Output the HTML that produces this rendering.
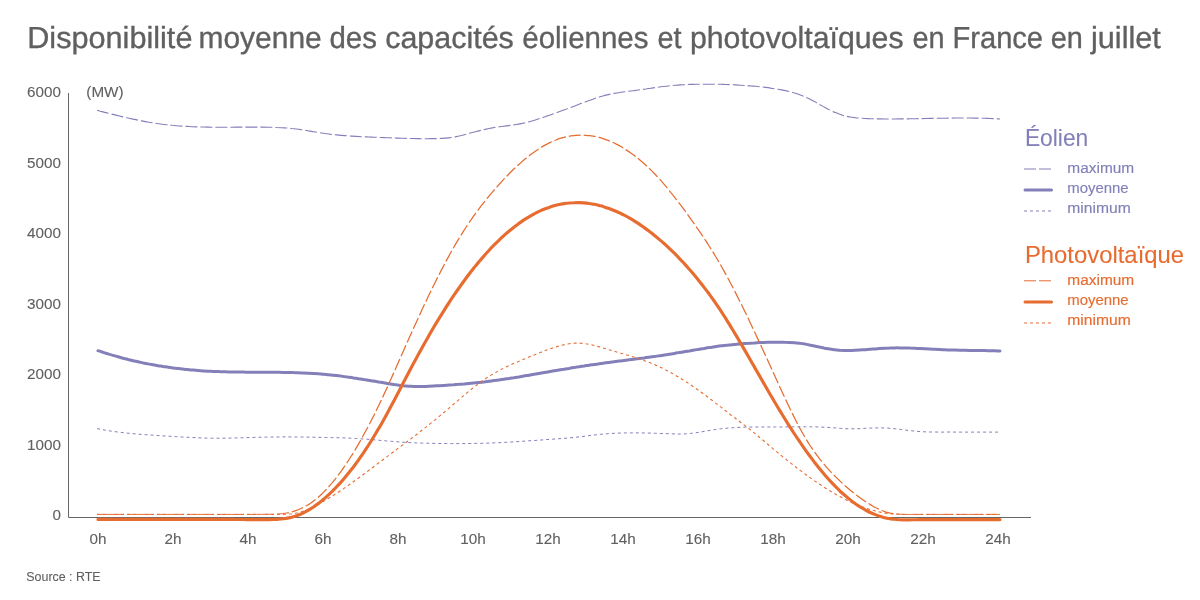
<!DOCTYPE html>
<html lang="fr"><head><meta charset="utf-8"><title>Disponibilité moyenne des capacités éoliennes et photovoltaïques</title>
<style>
html,body{margin:0;padding:0;background:#fff;}
body{width:1200px;height:600px;overflow:hidden;position:relative;font-family:"Liberation Sans",sans-serif;}
svg{position:absolute;left:0;top:0;display:block}
svg text{font-family:"Liberation Sans",sans-serif;}
</style></head><body>
<svg width="1200" height="600" viewBox="0 0 1200 600">
<text id="title" transform="translate(0 47.9) scale(1 1.017)" y="0" text-rendering="geometricPrecision" font-size="29.9" fill="#606060" stroke="#606060" stroke-width="0.35"><tspan x="27.20" textLength="165.25" lengthAdjust="spacingAndGlyphs">Disponibilité</tspan> <tspan x="198.50" textLength="123.22" lengthAdjust="spacingAndGlyphs">moyenne</tspan> <tspan x="329.52" textLength="47.42" lengthAdjust="spacingAndGlyphs">des</tspan> <tspan x="385.23" textLength="128.57" lengthAdjust="spacingAndGlyphs">capacités</tspan> <tspan x="522.26" textLength="126.21" lengthAdjust="spacingAndGlyphs">éoliennes</tspan> <tspan x="657.45" textLength="24.06" lengthAdjust="spacingAndGlyphs">et</tspan> <tspan x="689.98" textLength="213.60" lengthAdjust="spacingAndGlyphs">photovoltaïques</tspan> <tspan x="912.45" textLength="32.09" lengthAdjust="spacingAndGlyphs">en</tspan> <tspan x="952.56" textLength="90.45" lengthAdjust="spacingAndGlyphs">France</tspan> <tspan x="1050.70" textLength="32.09" lengthAdjust="spacingAndGlyphs">en</tspan> <tspan x="1091.03" textLength="69.85" lengthAdjust="spacingAndGlyphs">juillet</tspan></text>

<text transform="translate(61.00 97.00) scale(0.9850 1)" font-size="15.5" text-anchor="end" fill="#606060" stroke="#606060" stroke-width="0.1">6000</text>
<text transform="translate(61.00 167.50) scale(0.9850 1)" font-size="15.5" text-anchor="end" fill="#606060" stroke="#606060" stroke-width="0.1">5000</text>
<text transform="translate(61.00 238.00) scale(0.9850 1)" font-size="15.5" text-anchor="end" fill="#606060" stroke="#606060" stroke-width="0.1">4000</text>
<text transform="translate(61.00 308.50) scale(0.9850 1)" font-size="15.5" text-anchor="end" fill="#606060" stroke="#606060" stroke-width="0.1">3000</text>
<text transform="translate(61.00 379.00) scale(0.9850 1)" font-size="15.5" text-anchor="end" fill="#606060" stroke="#606060" stroke-width="0.1">2000</text>
<text transform="translate(61.00 449.50) scale(0.9850 1)" font-size="15.5" text-anchor="end" fill="#606060" stroke="#606060" stroke-width="0.1">1000</text>
<text transform="translate(61.00 520.00) scale(0.9850 1)" font-size="15.5" text-anchor="end" fill="#606060" stroke="#606060" stroke-width="0.1">0</text>

<text transform="translate(86.30 97.00) scale(0.9850 1)" font-size="15.5" text-anchor="start" fill="#606060" stroke="#606060" stroke-width="0.1">(MW)</text>

<text transform="translate(98.00 544.10) scale(0.9850 1)" font-size="15.5" text-anchor="middle" fill="#606060" stroke="#606060" stroke-width="0.1">0h</text>
<text transform="translate(173.00 544.10) scale(0.9850 1)" font-size="15.5" text-anchor="middle" fill="#606060" stroke="#606060" stroke-width="0.1">2h</text>
<text transform="translate(248.00 544.10) scale(0.9850 1)" font-size="15.5" text-anchor="middle" fill="#606060" stroke="#606060" stroke-width="0.1">4h</text>
<text transform="translate(323.00 544.10) scale(0.9850 1)" font-size="15.5" text-anchor="middle" fill="#606060" stroke="#606060" stroke-width="0.1">6h</text>
<text transform="translate(398.00 544.10) scale(0.9850 1)" font-size="15.5" text-anchor="middle" fill="#606060" stroke="#606060" stroke-width="0.1">8h</text>
<text transform="translate(473.00 544.10) scale(0.9850 1)" font-size="15.5" text-anchor="middle" fill="#606060" stroke="#606060" stroke-width="0.1">10h</text>
<text transform="translate(548.00 544.10) scale(0.9850 1)" font-size="15.5" text-anchor="middle" fill="#606060" stroke="#606060" stroke-width="0.1">12h</text>
<text transform="translate(623.00 544.10) scale(0.9850 1)" font-size="15.5" text-anchor="middle" fill="#606060" stroke="#606060" stroke-width="0.1">14h</text>
<text transform="translate(698.00 544.10) scale(0.9850 1)" font-size="15.5" text-anchor="middle" fill="#606060" stroke="#606060" stroke-width="0.1">16h</text>
<text transform="translate(773.00 544.10) scale(0.9850 1)" font-size="15.5" text-anchor="middle" fill="#606060" stroke="#606060" stroke-width="0.1">18h</text>
<text transform="translate(848.00 544.10) scale(0.9850 1)" font-size="15.5" text-anchor="middle" fill="#606060" stroke="#606060" stroke-width="0.1">20h</text>
<text transform="translate(923.00 544.10) scale(0.9850 1)" font-size="15.5" text-anchor="middle" fill="#606060" stroke="#606060" stroke-width="0.1">22h</text>
<text transform="translate(998.00 544.10) scale(0.9850 1)" font-size="15.5" text-anchor="middle" fill="#606060" stroke="#606060" stroke-width="0.1">24h</text>

<text transform="translate(26.30 581.00) scale(0.9270 1)" font-size="13.4" text-anchor="start" fill="#606060" stroke="#606060" stroke-width="0.1">Source : RTE</text>

<path d="M68.5 93V517.5H1031" stroke="#666" stroke-width="1" fill="none"/>
<path d="M97.0 110.3C98.7 110.7 100.3 111.2 102.0 111.6C103.7 112.0 105.3 112.4 107.0 112.9C108.6 113.3 110.3 113.7 112.0 114.1C113.6 114.5 115.3 115.0 117.0 115.4C118.6 115.8 120.3 116.2 121.9 116.6C123.6 117.0 125.3 117.4 126.9 117.8C128.6 118.1 130.3 118.5 131.9 118.9C133.6 119.2 135.2 119.6 136.9 119.9C138.6 120.3 140.2 120.6 141.9 120.9C143.6 121.3 145.2 121.6 146.9 121.9C148.6 122.2 150.2 122.5 151.9 122.7C153.5 123.0 155.2 123.3 156.9 123.5C158.5 123.7 160.2 124.0 161.9 124.2C163.5 124.4 165.2 124.6 166.8 124.8C168.5 125.0 170.2 125.1 171.8 125.3C173.5 125.4 175.2 125.6 176.8 125.7C178.5 125.9 180.1 126.0 181.8 126.1C183.5 126.2 185.1 126.3 186.8 126.4C188.5 126.5 190.1 126.6 191.8 126.7C193.5 126.7 195.1 126.8 196.8 126.9C198.4 126.9 200.1 127.0 201.8 127.0C203.4 127.0 205.1 127.1 206.8 127.1C208.4 127.1 210.1 127.2 211.7 127.2C213.4 127.2 215.1 127.2 216.7 127.2C218.4 127.2 220.1 127.2 221.7 127.2C223.4 127.2 225.0 127.2 226.7 127.2C228.4 127.2 230.0 127.2 231.7 127.2C233.4 127.2 235.0 127.2 236.7 127.1C238.4 127.1 240.0 127.1 241.7 127.1C243.3 127.1 245.0 127.1 246.7 127.1C248.3 127.1 250.0 127.1 251.7 127.1C253.3 127.1 255.0 127.1 256.6 127.1C258.3 127.1 260.0 127.1 261.6 127.1C263.3 127.1 265.0 127.2 266.6 127.2C268.3 127.2 270.0 127.2 271.6 127.3C273.3 127.3 274.9 127.4 276.6 127.5C278.3 127.5 279.9 127.6 281.6 127.7C283.3 127.8 284.9 127.9 286.6 128.0C288.2 128.1 289.9 128.3 291.6 128.5C293.2 128.6 294.9 128.8 296.6 129.0C298.2 129.3 299.9 129.5 301.5 129.7C303.2 130.0 304.9 130.3 306.5 130.5C308.2 130.8 309.9 131.1 311.5 131.4C313.2 131.7 314.9 131.9 316.5 132.2C318.2 132.5 319.8 132.8 321.5 133.0C323.2 133.3 324.8 133.5 326.5 133.7C328.2 134.0 329.8 134.2 331.5 134.4C333.1 134.5 334.8 134.7 336.5 134.9C338.1 135.1 339.8 135.2 341.5 135.4C343.1 135.5 344.8 135.6 346.4 135.8C348.1 135.9 349.8 136.0 351.4 136.1C353.1 136.2 354.8 136.3 356.4 136.4C358.1 136.5 359.8 136.6 361.4 136.7C363.1 136.8 364.7 136.8 366.4 136.9C368.1 137.0 369.7 137.0 371.4 137.1C373.1 137.2 374.7 137.2 376.4 137.3C378.0 137.4 379.7 137.4 381.4 137.5C383.0 137.6 384.7 137.6 386.4 137.7C388.0 137.8 389.7 137.8 391.3 137.9C393.0 137.9 394.7 138.0 396.3 138.1C398.0 138.1 399.7 138.2 401.3 138.2C403.0 138.3 404.7 138.3 406.3 138.4C408.0 138.4 409.6 138.5 411.3 138.5C413.0 138.5 414.6 138.6 416.3 138.6C418.0 138.6 419.6 138.7 421.3 138.7C422.9 138.7 424.6 138.7 426.3 138.7C427.9 138.7 429.6 138.7 431.3 138.6C432.9 138.6 434.6 138.6 436.2 138.6C437.9 138.5 439.6 138.5 441.2 138.4C442.9 138.3 444.6 138.2 446.2 138.1C447.9 138.0 449.6 137.8 451.2 137.5C452.9 137.3 454.5 137.0 456.2 136.6C457.9 136.3 459.5 135.9 461.2 135.5C462.9 135.0 464.5 134.6 466.2 134.2C467.8 133.7 469.5 133.3 471.2 132.8C472.8 132.4 474.5 132.0 476.2 131.5C477.8 131.1 479.5 130.7 481.1 130.3C482.8 129.9 484.5 129.5 486.1 129.1C487.8 128.7 489.5 128.4 491.1 128.1C492.8 127.8 494.5 127.5 496.1 127.2C497.8 127.0 499.4 126.8 501.1 126.5C502.8 126.3 504.4 126.1 506.1 125.9C507.8 125.7 509.4 125.5 511.1 125.3C512.7 125.0 514.4 124.8 516.1 124.5C517.7 124.3 519.4 124.0 521.1 123.6C522.7 123.3 524.4 122.9 526.0 122.5C527.7 122.1 529.4 121.7 531.0 121.2C532.7 120.7 534.4 120.2 536.0 119.7C537.7 119.2 539.4 118.7 541.0 118.1C542.7 117.6 544.3 117.0 546.0 116.4C547.7 115.9 549.3 115.3 551.0 114.7C552.7 114.1 554.3 113.5 556.0 112.9C557.6 112.3 559.3 111.7 561.0 111.1C562.6 110.5 564.3 109.9 566.0 109.3C567.6 108.6 569.3 108.0 571.0 107.4C572.6 106.8 574.3 106.1 575.9 105.5C577.6 104.9 579.3 104.2 580.9 103.6C582.6 103.0 584.3 102.3 585.9 101.7C587.6 101.1 589.2 100.5 590.9 99.9C592.6 99.3 594.2 98.7 595.9 98.1C597.6 97.6 599.2 97.0 600.9 96.5C602.5 96.0 604.2 95.6 605.9 95.1C607.5 94.7 609.2 94.3 610.9 94.0C612.5 93.7 614.2 93.4 615.9 93.1C617.5 92.8 619.2 92.6 620.8 92.3C622.5 92.1 624.2 91.9 625.8 91.7C627.5 91.4 629.2 91.2 630.8 91.0C632.5 90.8 634.1 90.6 635.8 90.4C637.5 90.2 639.1 89.9 640.8 89.7C642.5 89.5 644.1 89.2 645.8 89.0C647.4 88.7 649.1 88.5 650.8 88.2C652.4 88.0 654.1 87.7 655.8 87.5C657.4 87.3 659.1 87.0 660.8 86.8C662.4 86.6 664.1 86.4 665.7 86.2C667.4 86.0 669.1 85.9 670.7 85.7C672.4 85.5 674.1 85.4 675.7 85.3C677.4 85.1 679.0 85.0 680.7 84.9C682.4 84.8 684.0 84.7 685.7 84.6C687.4 84.6 689.0 84.5 690.7 84.4C692.3 84.4 694.0 84.3 695.7 84.3C697.3 84.2 699.0 84.2 700.7 84.2C702.3 84.2 704.0 84.2 705.7 84.2C707.3 84.2 709.0 84.2 710.6 84.2C712.3 84.2 714.0 84.2 715.6 84.2C717.3 84.3 719.0 84.3 720.6 84.3C722.3 84.4 723.9 84.4 725.6 84.5C727.3 84.5 728.9 84.6 730.6 84.7C732.3 84.7 733.9 84.8 735.6 84.9C737.2 85.0 738.9 85.1 740.6 85.2C742.2 85.3 743.9 85.4 745.6 85.5C747.2 85.6 748.9 85.7 750.6 85.9C752.2 86.0 753.9 86.2 755.5 86.3C757.2 86.5 758.9 86.6 760.5 86.8C762.2 87.0 763.9 87.2 765.5 87.4C767.2 87.6 768.8 87.8 770.5 88.1C772.2 88.3 773.8 88.6 775.5 88.8C777.2 89.1 778.8 89.3 780.5 89.6C782.1 90.0 783.8 90.3 785.5 90.6C787.1 91.0 788.8 91.4 790.5 91.8C792.1 92.2 793.8 92.7 795.5 93.2C797.1 93.7 798.8 94.3 800.4 94.9C802.1 95.6 803.8 96.3 805.4 97.0C807.1 97.8 808.8 98.6 810.4 99.4C812.1 100.3 813.7 101.2 815.4 102.1C817.1 103.0 818.7 104.0 820.4 104.9C822.1 105.9 823.7 106.8 825.4 107.7C827.0 108.6 828.7 109.5 830.4 110.3C832.0 111.1 833.7 111.9 835.4 112.6C837.0 113.3 838.7 113.9 840.4 114.5C842.0 115.1 843.7 115.5 845.3 116.0C847.0 116.4 848.7 116.7 850.3 117.0C852.0 117.3 853.7 117.5 855.3 117.7C857.0 117.9 858.6 118.0 860.3 118.1C862.0 118.3 863.6 118.4 865.3 118.5C867.0 118.6 868.6 118.6 870.3 118.7C872.0 118.8 873.6 118.8 875.3 118.9C876.9 118.9 878.6 118.9 880.3 118.9C881.9 119.0 883.6 119.0 885.3 119.0C886.9 119.0 888.6 119.0 890.2 119.0C891.9 119.0 893.6 119.0 895.2 119.0C896.9 119.0 898.6 119.0 900.2 118.9C901.9 118.9 903.5 118.9 905.2 118.9C906.9 118.9 908.5 118.8 910.2 118.8C911.9 118.8 913.5 118.8 915.2 118.7C916.9 118.7 918.5 118.7 920.2 118.6C921.8 118.6 923.5 118.6 925.2 118.5C926.8 118.5 928.5 118.5 930.2 118.4C931.8 118.4 933.5 118.4 935.1 118.3C936.8 118.3 938.5 118.3 940.1 118.2C941.8 118.2 943.5 118.2 945.1 118.2C946.8 118.1 948.4 118.1 950.1 118.1C951.8 118.1 953.4 118.1 955.1 118.0C956.8 118.0 958.4 118.0 960.1 118.0C961.8 118.0 963.4 118.0 965.1 118.0C966.7 118.0 968.4 118.0 970.1 118.0C971.7 118.1 973.4 118.1 975.1 118.1C976.7 118.1 978.4 118.2 980.0 118.2C981.7 118.2 983.4 118.3 985.0 118.3C986.7 118.4 988.4 118.4 990.0 118.5C991.7 118.6 993.3 118.6 995.0 118.7C996.7 118.8 998.3 118.9 1000.0 119.0" stroke="#8380b9" stroke-width="1.1" stroke-dasharray="12 3" fill="none"/>
<path d="M97.0 428.6C98.7 428.9 100.3 429.3 102.0 429.6C103.7 429.9 105.3 430.2 107.0 430.4C108.6 430.7 110.3 431.0 112.0 431.2C113.6 431.5 115.3 431.7 117.0 431.9C118.6 432.1 120.3 432.3 121.9 432.5C123.6 432.7 125.3 432.9 126.9 433.1C128.6 433.3 130.3 433.4 131.9 433.6C133.6 433.7 135.2 433.9 136.9 434.0C138.6 434.2 140.2 434.3 141.9 434.4C143.6 434.5 145.2 434.7 146.9 434.8C148.6 434.9 150.2 435.0 151.9 435.1C153.5 435.2 155.2 435.3 156.9 435.4C158.5 435.6 160.2 435.7 161.9 435.8C163.5 435.9 165.2 436.0 166.8 436.1C168.5 436.2 170.2 436.3 171.8 436.4C173.5 436.5 175.2 436.6 176.8 436.7C178.5 436.8 180.1 436.9 181.8 437.0C183.5 437.1 185.1 437.1 186.8 437.2C188.5 437.3 190.1 437.4 191.8 437.5C193.5 437.6 195.1 437.7 196.8 437.7C198.4 437.8 200.1 437.9 201.8 437.9C203.4 438.0 205.1 438.0 206.8 438.1C208.4 438.1 210.1 438.1 211.7 438.2C213.4 438.2 215.1 438.2 216.7 438.2C218.4 438.2 220.1 438.2 221.7 438.2C223.4 438.2 225.0 438.2 226.7 438.1C228.4 438.1 230.0 438.1 231.7 438.0C233.4 438.0 235.0 438.0 236.7 437.9C238.4 437.9 240.0 437.8 241.7 437.8C243.3 437.7 245.0 437.7 246.7 437.6C248.3 437.6 250.0 437.5 251.7 437.5C253.3 437.4 255.0 437.4 256.6 437.3C258.3 437.3 260.0 437.3 261.6 437.2C263.3 437.2 265.0 437.1 266.6 437.1C268.3 437.1 270.0 437.0 271.6 437.0C273.3 437.0 274.9 437.0 276.6 437.0C278.3 437.0 279.9 436.9 281.6 436.9C283.3 436.9 284.9 436.9 286.6 436.9C288.2 436.9 289.9 436.9 291.6 437.0C293.2 437.0 294.9 437.0 296.6 437.0C298.2 437.0 299.9 437.0 301.5 437.0C303.2 437.1 304.9 437.1 306.5 437.1C308.2 437.1 309.9 437.2 311.5 437.2C313.2 437.2 314.9 437.2 316.5 437.3C318.2 437.3 319.8 437.3 321.5 437.4C323.2 437.4 324.8 437.4 326.5 437.5C328.2 437.5 329.8 437.5 331.5 437.6C333.1 437.6 334.8 437.6 336.5 437.7C338.1 437.7 339.8 437.8 341.5 437.8C343.1 437.9 344.8 437.9 346.4 438.0C348.1 438.1 349.8 438.2 351.4 438.2C353.1 438.3 354.8 438.4 356.4 438.5C358.1 438.6 359.8 438.7 361.4 438.9C363.1 439.0 364.7 439.1 366.4 439.2C368.1 439.3 369.7 439.5 371.4 439.6C373.1 439.7 374.7 439.9 376.4 440.0C378.0 440.2 379.7 440.3 381.4 440.5C383.0 440.6 384.7 440.7 386.4 440.9C388.0 441.0 389.7 441.2 391.3 441.3C393.0 441.4 394.7 441.6 396.3 441.7C398.0 441.8 399.7 442.0 401.3 442.1C403.0 442.2 404.7 442.3 406.3 442.4C408.0 442.5 409.6 442.6 411.3 442.7C413.0 442.8 414.6 442.8 416.3 442.9C418.0 443.0 419.6 443.0 421.3 443.1C422.9 443.1 424.6 443.2 426.3 443.2C427.9 443.3 429.6 443.3 431.3 443.3C432.9 443.4 434.6 443.4 436.2 443.4C437.9 443.5 439.6 443.5 441.2 443.5C442.9 443.5 444.6 443.5 446.2 443.5C447.9 443.6 449.6 443.6 451.2 443.6C452.9 443.6 454.5 443.6 456.2 443.6C457.9 443.6 459.5 443.6 461.2 443.6C462.9 443.6 464.5 443.6 466.2 443.6C467.8 443.5 469.5 443.5 471.2 443.5C472.8 443.5 474.5 443.4 476.2 443.4C477.8 443.4 479.5 443.3 481.1 443.3C482.8 443.3 484.5 443.2 486.1 443.2C487.8 443.1 489.5 443.1 491.1 443.0C492.8 442.9 494.5 442.9 496.1 442.8C497.8 442.7 499.4 442.6 501.1 442.6C502.8 442.5 504.4 442.4 506.1 442.3C507.8 442.2 509.4 442.1 511.1 442.0C512.7 441.9 514.4 441.8 516.1 441.7C517.7 441.6 519.4 441.5 521.1 441.4C522.7 441.3 524.4 441.2 526.0 441.0C527.7 440.9 529.4 440.8 531.0 440.7C532.7 440.6 534.4 440.5 536.0 440.4C537.7 440.2 539.4 440.1 541.0 440.0C542.7 439.9 544.3 439.8 546.0 439.6C547.7 439.5 549.3 439.4 551.0 439.3C552.7 439.2 554.3 439.1 556.0 438.9C557.6 438.8 559.3 438.7 561.0 438.6C562.6 438.5 564.3 438.3 566.0 438.2C567.6 438.0 569.3 437.9 571.0 437.7C572.6 437.6 574.3 437.4 575.9 437.2C577.6 437.1 579.3 436.9 580.9 436.7C582.6 436.5 584.3 436.3 585.9 436.0C587.6 435.8 589.2 435.6 590.9 435.4C592.6 435.2 594.2 435.0 595.9 434.8C597.6 434.6 599.2 434.4 600.9 434.3C602.5 434.1 604.2 434.0 605.9 433.9C607.5 433.7 609.2 433.6 610.9 433.5C612.5 433.4 614.2 433.3 615.9 433.2C617.5 433.2 619.2 433.1 620.8 433.0C622.5 433.0 624.2 433.0 625.8 432.9C627.5 432.9 629.2 432.9 630.8 432.9C632.5 432.9 634.1 432.9 635.8 432.9C637.5 432.9 639.1 432.9 640.8 432.9C642.5 432.9 644.1 433.0 645.8 433.0C647.4 433.0 649.1 433.1 650.8 433.1C652.4 433.2 654.1 433.2 655.8 433.3C657.4 433.4 659.1 433.4 660.8 433.5C662.4 433.5 664.1 433.6 665.7 433.7C667.4 433.7 669.1 433.8 670.7 433.8C672.4 433.9 674.1 433.9 675.7 434.0C677.4 434.0 679.0 434.0 680.7 434.0C682.4 433.9 684.0 433.9 685.7 433.8C687.4 433.7 689.0 433.6 690.7 433.4C692.3 433.2 694.0 433.0 695.7 432.8C697.3 432.5 699.0 432.3 700.7 432.0C702.3 431.7 704.0 431.4 705.7 431.1C707.3 430.8 709.0 430.5 710.6 430.3C712.3 430.0 714.0 429.7 715.6 429.5C717.3 429.3 719.0 429.0 720.6 428.8C722.3 428.6 723.9 428.5 725.6 428.3C727.3 428.1 728.9 428.0 730.6 427.9C732.3 427.8 733.9 427.7 735.6 427.6C737.2 427.5 738.9 427.4 740.6 427.3C742.2 427.3 743.9 427.2 745.6 427.2C747.2 427.1 748.9 427.1 750.6 427.1C752.2 427.1 753.9 427.1 755.5 427.0C757.2 427.0 758.9 427.0 760.5 427.0C762.2 427.0 763.9 427.0 765.5 427.0C767.2 427.0 768.8 427.0 770.5 427.0C772.2 427.0 773.8 427.0 775.5 427.0C777.2 427.0 778.8 427.0 780.5 427.0C782.1 427.0 783.8 427.0 785.5 426.9C787.1 426.9 788.8 426.9 790.5 426.9C792.1 426.9 793.8 426.8 795.5 426.8C797.1 426.8 798.8 426.8 800.4 426.8C802.1 426.8 803.8 426.8 805.4 426.8C807.1 426.8 808.8 426.8 810.4 426.8C812.1 426.8 813.7 426.9 815.4 426.9C817.1 427.0 818.7 427.0 820.4 427.1C822.1 427.1 823.7 427.2 825.4 427.3C827.0 427.4 828.7 427.4 830.4 427.6C832.0 427.7 833.7 427.8 835.4 427.9C837.0 428.1 838.7 428.2 840.4 428.4C842.0 428.5 843.7 428.6 845.3 428.7C847.0 428.8 848.7 428.8 850.3 428.8C852.0 428.8 853.7 428.8 855.3 428.8C857.0 428.7 858.6 428.7 860.3 428.6C862.0 428.5 863.6 428.4 865.3 428.3C867.0 428.3 868.6 428.2 870.3 428.1C872.0 428.0 873.6 428.0 875.3 427.9C876.9 427.9 878.6 427.9 880.3 427.9C881.9 427.9 883.6 427.9 885.3 428.0C886.9 428.0 888.6 428.1 890.2 428.3C891.9 428.4 893.6 428.6 895.2 428.8C896.9 428.9 898.6 429.2 900.2 429.4C901.9 429.6 903.5 429.8 905.2 430.0C906.9 430.2 908.5 430.5 910.2 430.6C911.9 430.8 913.5 431.0 915.2 431.2C916.9 431.3 918.5 431.5 920.2 431.6C921.8 431.7 923.5 431.8 925.2 431.8C926.8 431.9 928.5 432.0 930.2 432.0C931.8 432.0 933.5 432.0 935.1 432.0C936.8 432.1 938.5 432.1 940.1 432.1C941.8 432.1 943.5 432.1 945.1 432.1C946.8 432.1 948.4 432.0 950.1 432.0C951.8 432.0 953.4 432.1 955.1 432.1C956.8 432.1 958.4 432.1 960.1 432.1C961.8 432.1 963.4 432.1 965.1 432.1C966.7 432.1 968.4 432.1 970.1 432.1C971.7 432.1 973.4 432.1 975.1 432.1C976.7 432.1 978.4 432.1 980.0 432.1C981.7 432.1 983.4 432.1 985.0 432.1C986.7 432.1 988.4 432.1 990.0 432.1C991.7 432.1 993.3 432.1 995.0 432.1C996.7 432.1 998.3 432.1 1000.0 432.1" stroke="#8380b9" stroke-width="1" stroke-dasharray="3 3" fill="none"/>
<path d="M98.0 350.7C99.7 351.3 101.3 351.8 103.0 352.3C104.7 352.9 106.4 353.4 108.0 353.9C109.7 354.4 111.4 354.9 113.0 355.4C114.7 355.9 116.4 356.4 118.0 356.8C119.7 357.3 121.4 357.7 123.1 358.2C124.7 358.6 126.4 359.0 128.1 359.5C129.7 359.9 131.4 360.3 133.1 360.7C134.7 361.1 136.4 361.4 138.1 361.8C139.8 362.2 141.4 362.5 143.1 362.9C144.8 363.2 146.4 363.5 148.1 363.9C149.8 364.2 151.5 364.5 153.1 364.8C154.8 365.1 156.5 365.4 158.1 365.7C159.8 366.0 161.5 366.2 163.1 366.5C164.8 366.7 166.5 367.0 168.2 367.2C169.8 367.5 171.5 367.7 173.2 367.9C174.8 368.1 176.5 368.4 178.2 368.6C179.8 368.8 181.5 368.9 183.2 369.1C184.9 369.3 186.5 369.5 188.2 369.6C189.9 369.8 191.5 370.0 193.2 370.1C194.9 370.2 196.6 370.4 198.2 370.5C199.9 370.6 201.6 370.8 203.2 370.9C204.9 371.0 206.6 371.1 208.2 371.2C209.9 371.3 211.6 371.3 213.3 371.4C214.9 371.5 216.6 371.6 218.3 371.6C219.9 371.7 221.6 371.7 223.3 371.8C224.9 371.8 226.6 371.9 228.3 371.9C230.0 372.0 231.6 372.0 233.3 372.0C235.0 372.0 236.6 372.1 238.3 372.1C240.0 372.1 241.7 372.1 243.3 372.1C245.0 372.1 246.7 372.2 248.3 372.2C250.0 372.2 251.7 372.2 253.3 372.2C255.0 372.2 256.7 372.2 258.4 372.2C260.0 372.2 261.7 372.2 263.4 372.2C265.0 372.2 266.7 372.2 268.4 372.2C270.0 372.2 271.7 372.3 273.4 372.3C275.1 372.3 276.7 372.3 278.4 372.3C280.1 372.3 281.7 372.3 283.4 372.4C285.1 372.4 286.8 372.4 288.4 372.5C290.1 372.5 291.8 372.5 293.4 372.6C295.1 372.6 296.8 372.7 298.4 372.7C300.1 372.8 301.8 372.9 303.5 372.9C305.1 373.0 306.8 373.1 308.5 373.2C310.1 373.3 311.8 373.4 313.5 373.5C315.1 373.6 316.8 373.7 318.5 373.8C320.2 373.9 321.8 374.1 323.5 374.2C325.2 374.4 326.8 374.5 328.5 374.7C330.2 374.9 331.9 375.0 333.5 375.2C335.2 375.4 336.9 375.6 338.5 375.8C340.2 376.0 341.9 376.2 343.5 376.5C345.2 376.7 346.9 376.9 348.6 377.2C350.2 377.4 351.9 377.6 353.6 377.9C355.2 378.1 356.9 378.4 358.6 378.7C360.2 378.9 361.9 379.2 363.6 379.5C365.3 379.7 366.9 380.0 368.6 380.3C370.3 380.6 371.9 380.8 373.6 381.1C375.3 381.4 377.0 381.7 378.6 382.0C380.3 382.2 382.0 382.5 383.6 382.8C385.3 383.1 387.0 383.4 388.6 383.7C390.3 383.9 392.0 384.2 393.7 384.5C395.3 384.7 397.0 385.0 398.7 385.2C400.3 385.4 402.0 385.6 403.7 385.8C405.3 386.0 407.0 386.1 408.7 386.2C410.4 386.3 412.0 386.4 413.7 386.5C415.4 386.5 417.0 386.5 418.7 386.5C420.4 386.5 422.1 386.5 423.7 386.5C425.4 386.4 427.1 386.4 428.7 386.3C430.4 386.2 432.1 386.1 433.7 386.0C435.4 385.9 437.1 385.8 438.8 385.7C440.4 385.6 442.1 385.5 443.8 385.4C445.4 385.3 447.1 385.2 448.8 385.0C450.4 384.9 452.1 384.8 453.8 384.7C455.5 384.5 457.1 384.4 458.8 384.3C460.5 384.1 462.1 384.0 463.8 383.9C465.5 383.7 467.2 383.6 468.8 383.4C470.5 383.3 472.2 383.1 473.8 382.9C475.5 382.8 477.2 382.6 478.8 382.4C480.5 382.2 482.2 382.0 483.9 381.9C485.5 381.7 487.2 381.5 488.9 381.3C490.5 381.1 492.2 380.8 493.9 380.6C495.5 380.4 497.2 380.2 498.9 379.9C500.6 379.7 502.2 379.5 503.9 379.2C505.6 379.0 507.2 378.7 508.9 378.5C510.6 378.2 512.3 377.9 513.9 377.7C515.6 377.4 517.3 377.1 518.9 376.9C520.6 376.6 522.3 376.3 523.9 376.0C525.6 375.7 527.3 375.5 529.0 375.2C530.6 374.9 532.3 374.6 534.0 374.3C535.6 374.0 537.3 373.7 539.0 373.4C540.6 373.1 542.3 372.9 544.0 372.6C545.7 372.3 547.3 372.0 549.0 371.7C550.7 371.4 552.3 371.1 554.0 370.8C555.7 370.6 557.4 370.3 559.0 370.0C560.7 369.7 562.4 369.4 564.0 369.2C565.7 368.9 567.4 368.6 569.0 368.4C570.7 368.1 572.4 367.8 574.1 367.6C575.7 367.3 577.4 367.0 579.1 366.8C580.7 366.5 582.4 366.2 584.1 366.0C585.7 365.7 587.4 365.5 589.1 365.2C590.8 365.0 592.4 364.7 594.1 364.5C595.8 364.3 597.4 364.0 599.1 363.8C600.8 363.5 602.5 363.3 604.1 363.1C605.8 362.8 607.5 362.6 609.1 362.4C610.8 362.2 612.5 362.0 614.1 361.7C615.8 361.5 617.5 361.3 619.2 361.1C620.8 360.9 622.5 360.7 624.2 360.4C625.8 360.2 627.5 360.0 629.2 359.8C630.8 359.6 632.5 359.4 634.2 359.2C635.9 359.0 637.5 358.7 639.2 358.5C640.9 358.3 642.5 358.1 644.2 357.9C645.9 357.6 647.6 357.4 649.2 357.2C650.9 357.0 652.6 356.7 654.2 356.5C655.9 356.3 657.6 356.0 659.2 355.8C660.9 355.5 662.6 355.3 664.3 355.0C665.9 354.8 667.6 354.5 669.3 354.2C670.9 354.0 672.6 353.7 674.3 353.4C675.9 353.1 677.6 352.8 679.3 352.6C681.0 352.3 682.6 352.0 684.3 351.7C686.0 351.4 687.6 351.1 689.3 350.9C691.0 350.6 692.7 350.3 694.3 350.0C696.0 349.7 697.7 349.5 699.3 349.2C701.0 348.9 702.7 348.6 704.3 348.4C706.0 348.1 707.7 347.8 709.4 347.6C711.0 347.3 712.7 347.1 714.4 346.8C716.0 346.6 717.7 346.4 719.4 346.1C721.0 345.9 722.7 345.7 724.4 345.5C726.1 345.3 727.7 345.1 729.4 344.9C731.1 344.7 732.7 344.6 734.4 344.4C736.1 344.2 737.8 344.1 739.4 343.9C741.1 343.8 742.8 343.6 744.4 343.5C746.1 343.4 747.8 343.3 749.4 343.2C751.1 343.0 752.8 342.9 754.5 342.9C756.1 342.8 757.8 342.7 759.5 342.6C761.1 342.5 762.8 342.5 764.5 342.4C766.1 342.4 767.8 342.3 769.5 342.3C771.2 342.3 772.8 342.2 774.5 342.2C776.2 342.2 777.8 342.2 779.5 342.2C781.2 342.2 782.9 342.2 784.5 342.3C786.2 342.3 787.9 342.4 789.5 342.5C791.2 342.6 792.9 342.7 794.5 342.8C796.2 342.9 797.9 343.1 799.6 343.3C801.2 343.5 802.9 343.7 804.6 344.0C806.2 344.3 807.9 344.6 809.6 345.0C811.2 345.3 812.9 345.7 814.6 346.0C816.3 346.4 817.9 346.8 819.6 347.1C821.3 347.5 822.9 347.9 824.6 348.2C826.3 348.5 828.0 348.9 829.6 349.1C831.3 349.4 833.0 349.6 834.6 349.8C836.3 350.0 838.0 350.1 839.6 350.3C841.3 350.4 843.0 350.4 844.7 350.4C846.3 350.5 848.0 350.5 849.7 350.5C851.3 350.4 853.0 350.4 854.7 350.3C856.3 350.2 858.0 350.1 859.7 350.0C861.4 349.9 863.0 349.8 864.7 349.7C866.4 349.6 868.0 349.4 869.7 349.3C871.4 349.2 873.1 349.0 874.7 348.9C876.4 348.8 878.1 348.6 879.7 348.5C881.4 348.4 883.1 348.3 884.7 348.2C886.4 348.1 888.1 348.0 889.8 348.0C891.4 347.9 893.1 347.9 894.8 347.9C896.4 347.8 898.1 347.8 899.8 347.9C901.4 347.9 903.1 347.9 904.8 347.9C906.5 348.0 908.1 348.0 909.8 348.1C911.5 348.1 913.1 348.2 914.8 348.3C916.5 348.4 918.2 348.4 919.8 348.5C921.5 348.6 923.2 348.7 924.8 348.8C926.5 348.9 928.2 349.0 929.8 349.1C931.5 349.2 933.2 349.3 934.9 349.3C936.5 349.4 938.2 349.5 939.9 349.6C941.5 349.7 943.2 349.8 944.9 349.8C946.5 349.9 948.2 349.9 949.9 350.0C951.6 350.0 953.2 350.1 954.9 350.1C956.6 350.2 958.2 350.2 959.9 350.2C961.6 350.3 963.3 350.3 964.9 350.3C966.6 350.4 968.3 350.4 969.9 350.4C971.6 350.4 973.3 350.4 974.9 350.5C976.6 350.5 978.3 350.5 980.0 350.5C981.6 350.6 983.3 350.6 985.0 350.6C986.6 350.6 988.3 350.7 990.0 350.7C991.6 350.8 993.3 350.8 995.0 350.8C996.7 350.9 998.3 350.9 1000.0 351.0" stroke="#8380b9" stroke-width="3" stroke-linecap="round" fill="none"/>
<path d="M97.0 514.4C98.7 514.4 100.3 514.4 102.0 514.4C103.7 514.4 105.3 514.4 107.0 514.4C108.6 514.4 110.3 514.4 112.0 514.4C113.6 514.4 115.3 514.4 117.0 514.4C118.6 514.4 120.3 514.4 121.9 514.4C123.6 514.4 125.3 514.4 126.9 514.4C128.6 514.4 130.3 514.4 131.9 514.4C133.6 514.4 135.2 514.4 136.9 514.4C138.6 514.4 140.2 514.4 141.9 514.4C143.6 514.4 145.2 514.4 146.9 514.4C148.6 514.4 150.2 514.4 151.9 514.4C153.5 514.4 155.2 514.4 156.9 514.4C158.5 514.4 160.2 514.4 161.9 514.4C163.5 514.4 165.2 514.4 166.8 514.4C168.5 514.4 170.2 514.4 171.8 514.4C173.5 514.4 175.2 514.4 176.8 514.4C178.5 514.4 180.1 514.4 181.8 514.4C183.5 514.4 185.1 514.4 186.8 514.4C188.5 514.4 190.1 514.4 191.8 514.4C193.5 514.4 195.1 514.4 196.8 514.4C198.4 514.4 200.1 514.4 201.8 514.4C203.4 514.4 205.1 514.4 206.8 514.4C208.4 514.4 210.1 514.4 211.7 514.4C213.4 514.4 215.1 514.4 216.7 514.4C218.4 514.4 220.1 514.4 221.7 514.4C223.4 514.4 225.0 514.4 226.7 514.4C228.4 514.4 230.0 514.4 231.7 514.4C233.4 514.4 235.0 514.4 236.7 514.4C238.4 514.4 240.0 514.4 241.7 514.4C243.3 514.4 245.0 514.4 246.7 514.4C248.3 514.4 250.0 514.4 251.7 514.4C253.3 514.4 255.0 514.4 256.6 514.4C258.3 514.4 260.0 514.3 261.6 514.3C263.3 514.3 265.0 514.3 266.6 514.3C268.3 514.3 270.0 514.3 271.6 514.2C273.3 514.2 274.9 514.2 276.6 514.1C278.3 514.0 279.9 513.9 281.6 513.7C283.3 513.5 284.9 513.3 286.6 513.0" stroke="#e76c30" stroke-width="1" stroke-dasharray="12 3" stroke-dashoffset="0.00" fill="none"/>
<path d="M286.6 513.0C288.2 512.7 289.9 512.4 291.6 512.0C293.2 511.5 294.9 511.0 296.6 510.4C298.2 509.8 299.9 509.1 301.5 508.3C303.2 507.5 304.9 506.6 306.5 505.7C308.2 504.7 309.9 503.6 311.5 502.4C313.2 501.2 314.9 500.0 316.5 498.6C318.2 497.2 319.8 495.8 321.5 494.2C323.2 492.6 324.8 490.9 326.5 489.2C328.2 487.4 329.8 485.6 331.5 483.6C333.1 481.6 334.8 479.6 336.5 477.5C338.1 475.3 339.8 473.1 341.5 470.8C343.1 468.4 344.8 466.0 346.4 463.6C348.1 461.1 349.8 458.5 351.4 455.8C353.1 453.2 354.8 450.4 356.4 447.6C358.1 444.8 359.8 441.9 361.4 438.9C363.1 436.0 364.7 432.9 366.4 429.8C368.1 426.7 369.7 423.5 371.4 420.3C373.1 417.0 374.7 413.7 376.4 410.3C378.0 406.9 379.7 403.4 381.4 399.9C383.0 396.4 384.7 392.8 386.4 389.2C388.0 385.6 389.7 381.9 391.3 378.2C393.0 374.5 394.7 370.7 396.3 367.0C398.0 363.2 399.7 359.5 401.3 355.7C403.0 351.9 404.7 348.2 406.3 344.4C408.0 340.7 409.6 336.9 411.3 333.2C413.0 329.5 414.6 325.8 416.3 322.2C418.0 318.5 419.6 314.9 421.3 311.3C422.9 307.7 424.6 304.2 426.3 300.7C427.9 297.2 429.6 293.7 431.3 290.3C432.9 286.9 434.6 283.5 436.2 280.2C437.9 276.9 439.6 273.6 441.2 270.4C442.9 267.2 444.6 264.0 446.2 260.9C447.9 257.8 449.6 254.8 451.2 251.8C452.9 248.9 454.5 246.0 456.2 243.1C457.9 240.3 459.5 237.5 461.2 234.9C462.9 232.2 464.5 229.5 466.2 227.0C467.8 224.5 469.5 222.0 471.2 219.6C472.8 217.2 474.5 214.9 476.2 212.6C477.8 210.3 479.5 208.1 481.1 205.9C482.8 203.8 484.5 201.7 486.1 199.6C487.8 197.6 489.5 195.5 491.1 193.6C492.8 191.6 494.5 189.7 496.1 187.8C497.8 185.9 499.4 184.0 501.1 182.2C502.8 180.3 504.4 178.6 506.1 176.8C507.8 175.1 509.4 173.4 511.1 171.7C512.7 170.1 514.4 168.5 516.1 166.9C517.7 165.4 519.4 163.8 521.1 162.4C522.7 160.9 524.4 159.5 526.0 158.2C527.7 156.8 529.4 155.5 531.0 154.2C532.7 153.0 534.4 151.8 536.0 150.7C537.7 149.5 539.4 148.4 541.0 147.4C542.7 146.4 544.3 145.5 546.0 144.6C547.7 143.7 549.3 142.8 551.0 142.1C552.7 141.3 554.3 140.6 556.0 140.0C557.6 139.3 559.3 138.7 561.0 138.2C562.6 137.7 564.3 137.3 566.0 136.9C567.6 136.5 569.3 136.2 571.0 135.9C572.6 135.7 574.3 135.5 575.9 135.3C577.6 135.2 579.3 135.1 580.9 135.1C582.6 135.1 584.3 135.2 585.9 135.3C587.6 135.4 589.2 135.6 590.9 135.8C592.6 136.0 594.2 136.3 595.9 136.7C597.6 137.0 599.2 137.5 600.9 137.9C602.5 138.4 604.2 139.0 605.9 139.6C607.5 140.2 609.2 140.8 610.9 141.5C612.5 142.2 614.2 143.0 615.9 143.9C617.5 144.7 619.2 145.6 620.8 146.5C622.5 147.5 624.2 148.5 625.8 149.6C627.5 150.6 629.2 151.8 630.8 153.0C632.5 154.1 634.1 155.4 635.8 156.7C637.5 158.0 639.1 159.3 640.8 160.8C642.5 162.2 644.1 163.6 645.8 165.2C647.4 166.7 649.1 168.3 650.8 169.9C652.4 171.6 654.1 173.3 655.8 175.0C657.4 176.8 659.1 178.6 660.8 180.4C662.4 182.3 664.1 184.2 665.7 186.2C667.4 188.2 669.1 190.2 670.7 192.3C672.4 194.3 674.1 196.4 675.7 198.6C677.4 200.7 679.0 202.9 680.7 205.2C682.4 207.4 684.0 209.6 685.7 211.9C687.4 214.2 689.0 216.5 690.7 218.9C692.3 221.2 694.0 223.5 695.7 225.9C697.3 228.3 699.0 230.7 700.7 233.2C702.3 235.6 704.0 238.1 705.7 240.6C707.3 243.2 709.0 245.8 710.6 248.4C712.3 251.1 714.0 253.7 715.6 256.5C717.3 259.3 719.0 262.1 720.6 265.0C722.3 267.9 723.9 270.9 725.6 273.9C727.3 277.0 728.9 280.1 730.6 283.2C732.3 286.4 733.9 289.6 735.6 292.9C737.2 296.1 738.9 299.5 740.6 302.8C742.2 306.2 743.9 309.6 745.6 313.0C747.2 316.4 748.9 319.9 750.6 323.4C752.2 326.9 753.9 330.5 755.5 334.0C757.2 337.6 758.9 341.1 760.5 344.7C762.2 348.3 763.9 352.0 765.5 355.6C767.2 359.2 768.8 362.8 770.5 366.5C772.2 370.1 773.8 373.8 775.5 377.4C777.2 381.1 778.8 384.8 780.5 388.4C782.1 392.0 783.8 395.6 785.5 399.2C787.1 402.7 788.8 406.2 790.5 409.7C792.1 413.1 793.8 416.5 795.5 419.7C797.1 423.0 798.8 426.2 800.4 429.2C802.1 432.3 803.8 435.2 805.4 438.0C807.1 440.8 808.8 443.5 810.4 446.0C812.1 448.5 813.7 450.9 815.4 453.2C817.1 455.5 818.7 457.7 820.4 459.8C822.1 461.9 823.7 463.9 825.4 465.8C827.0 467.8 828.7 469.6 830.4 471.4C832.0 473.2 833.7 474.9 835.4 476.6C837.0 478.2 838.7 479.8 840.4 481.4C842.0 483.0 843.7 484.5 845.3 486.0C847.0 487.4 848.7 488.8 850.3 490.2C852.0 491.6 853.7 492.9 855.3 494.2C857.0 495.5 858.6 496.7 860.3 497.9C862.0 499.2 863.6 500.3 865.3 501.4C867.0 502.5 868.6 503.6 870.3 504.6C872.0 505.6 873.6 506.6 875.3 507.5C876.9 508.3 878.6 509.1 880.3 509.9C881.9 510.6 883.6 511.2 885.3 511.8C886.9 512.3 888.6 512.7 890.2 513.1C891.9 513.4 893.6 513.6 895.2 513.8" stroke="#e76c30" stroke-width="1.25" stroke-dasharray="12 3" stroke-dashoffset="9.64" fill="none"/>
<path d="M895.2 513.8C896.9 514.0 898.6 514.1 900.2 514.2C901.9 514.3 903.5 514.3 905.2 514.4C906.9 514.4 908.5 514.4 910.2 514.4C911.9 514.4 913.5 514.4 915.2 514.4C916.9 514.4 918.5 514.4 920.2 514.4C921.8 514.4 923.5 514.4 925.2 514.4C926.8 514.4 928.5 514.4 930.2 514.4C931.8 514.4 933.5 514.4 935.1 514.4C936.8 514.4 938.5 514.4 940.1 514.4C941.8 514.4 943.5 514.4 945.1 514.4C946.8 514.4 948.4 514.4 950.1 514.4C951.8 514.4 953.4 514.4 955.1 514.4C956.8 514.4 958.4 514.4 960.1 514.4C961.8 514.4 963.4 514.4 965.1 514.4C966.7 514.4 968.4 514.4 970.1 514.4C971.7 514.4 973.4 514.4 975.1 514.4C976.7 514.4 978.4 514.4 980.0 514.4C981.7 514.4 983.4 514.4 985.0 514.4C986.7 514.4 988.4 514.4 990.0 514.4C991.7 514.4 993.3 514.4 995.0 514.4C996.7 514.4 998.3 514.4 1000.0 514.4" stroke="#e76c30" stroke-width="1" stroke-dasharray="12 3" stroke-dashoffset="13.94" fill="none"/>
<path d="M97.0 514.4C98.7 514.4 100.3 514.4 102.0 514.4C103.7 514.4 105.3 514.4 107.0 514.4C108.6 514.4 110.3 514.4 112.0 514.4C113.6 514.4 115.3 514.4 117.0 514.4C118.6 514.4 120.3 514.4 121.9 514.4C123.6 514.4 125.3 514.4 126.9 514.4C128.6 514.4 130.3 514.4 131.9 514.4C133.6 514.4 135.2 514.4 136.9 514.4C138.6 514.4 140.2 514.4 141.9 514.4C143.6 514.4 145.2 514.4 146.9 514.4C148.6 514.4 150.2 514.4 151.9 514.4C153.5 514.4 155.2 514.4 156.9 514.4C158.5 514.4 160.2 514.4 161.9 514.4C163.5 514.4 165.2 514.4 166.8 514.4C168.5 514.4 170.2 514.4 171.8 514.4C173.5 514.4 175.2 514.4 176.8 514.4C178.5 514.4 180.1 514.4 181.8 514.4C183.5 514.4 185.1 514.4 186.8 514.4C188.5 514.4 190.1 514.4 191.8 514.4C193.5 514.4 195.1 514.4 196.8 514.4C198.4 514.4 200.1 514.4 201.8 514.4C203.4 514.4 205.1 514.4 206.8 514.4C208.4 514.4 210.1 514.4 211.7 514.4C213.4 514.4 215.1 514.4 216.7 514.4C218.4 514.4 220.1 514.4 221.7 514.4C223.4 514.4 225.0 514.4 226.7 514.4C228.4 514.4 230.0 514.4 231.7 514.4C233.4 514.4 235.0 514.4 236.7 514.4C238.4 514.4 240.0 514.4 241.7 514.4C243.3 514.4 245.0 514.4 246.7 514.4C248.3 514.4 250.0 514.4 251.7 514.4C253.3 514.4 255.0 514.4 256.6 514.4C258.3 514.4 260.0 514.4 261.6 514.4C263.3 514.4 265.0 514.4 266.6 514.4C268.3 514.4 270.0 514.4 271.6 514.4C273.3 514.4 274.9 514.4 276.6 514.4C278.3 514.4 279.9 514.4 281.6 514.4C283.3 514.4 284.9 514.3 286.6 514.3C288.2 514.2 289.9 514.1 291.6 513.9C293.2 513.7 294.9 513.3 296.6 513.1" stroke="#e76c30" stroke-width="1" stroke-dasharray="3 3" stroke-dashoffset="0.00" fill="none"/>
<path d="M296.6 513.1C298.2 512.6 299.9 512.2 301.5 511.7C303.2 511.2 304.9 510.6 306.5 509.9C308.2 509.2 309.9 508.5 311.5 507.7C313.2 506.9 314.9 506.1 316.5 505.2C318.2 504.3 319.8 503.4 321.5 502.5C323.2 501.5 324.8 500.6 326.5 499.6C328.2 498.6 329.8 497.6 331.5 496.5C333.1 495.5 334.8 494.4 336.5 493.4C338.1 492.3 339.8 491.2 341.5 490.1C343.1 489.0 344.8 487.8 346.4 486.7C348.1 485.5 349.8 484.4 351.4 483.2C353.1 482.0 354.8 480.8 356.4 479.6C358.1 478.4 359.8 477.2 361.4 475.9C363.1 474.7 364.7 473.4 366.4 472.2C368.1 470.9 369.7 469.7 371.4 468.4C373.1 467.1 374.7 465.9 376.4 464.6C378.0 463.4 379.7 462.1 381.4 460.9C383.0 459.6 384.7 458.4 386.4 457.1C388.0 455.9 389.7 454.6 391.3 453.4C393.0 452.1 394.7 450.9 396.3 449.7C398.0 448.4 399.7 447.2 401.3 446.0C403.0 444.7 404.7 443.5 406.3 442.2C408.0 441.0 409.6 439.7 411.3 438.5C413.0 437.2 414.6 435.9 416.3 434.7C418.0 433.4 419.6 432.1 421.3 430.8C422.9 429.5 424.6 428.2 426.3 426.9C427.9 425.6 429.6 424.3 431.3 422.9C432.9 421.6 434.6 420.2 436.2 418.8C437.9 417.5 439.6 416.1 441.2 414.7C442.9 413.3 444.6 411.9 446.2 410.4C447.9 409.0 449.6 407.6 451.2 406.2C452.9 404.7 454.5 403.3 456.2 401.9C457.9 400.5 459.5 399.1 461.2 397.7C462.9 396.3 464.5 394.9 466.2 393.5C467.8 392.1 469.5 390.8 471.2 389.5C472.8 388.1 474.5 386.8 476.2 385.6C477.8 384.3 479.5 383.0 481.1 381.8C482.8 380.6 484.5 379.5 486.1 378.3C487.8 377.2 489.5 376.1 491.1 375.1C492.8 374.1 494.5 373.1 496.1 372.2C497.8 371.2 499.4 370.3 501.1 369.5C502.8 368.6 504.4 367.8 506.1 367.0C507.8 366.2 509.4 365.5 511.1 364.7C512.7 364.0 514.4 363.2 516.1 362.5C517.7 361.8 519.4 361.1 521.1 360.4C522.7 359.7 524.4 359.0 526.0 358.3C527.7 357.6 529.4 356.9 531.0 356.2C532.7 355.5 534.4 354.8 536.0 354.2C537.7 353.5 539.4 352.9 541.0 352.2C542.7 351.6 544.3 350.9 546.0 350.3C547.7 349.7 549.3 349.1 551.0 348.5C552.7 348.0 554.3 347.4 556.0 346.9C557.6 346.4 559.3 345.9 561.0 345.5C562.6 345.1 564.3 344.7 566.0 344.3C567.6 344.0 569.3 343.7 571.0 343.5C572.6 343.3 574.3 343.2 575.9 343.1C577.6 343.1 579.3 343.1 580.9 343.2C582.6 343.3 584.3 343.5 585.9 343.8C587.6 344.0 589.2 344.3 590.9 344.7C592.6 345.1 594.2 345.5 595.9 345.9C597.6 346.4 599.2 346.8 600.9 347.3C602.5 347.8 604.2 348.3 605.9 348.8C607.5 349.3 609.2 349.8 610.9 350.3C612.5 350.8 614.2 351.2 615.9 351.7C617.5 352.2 619.2 352.7 620.8 353.2C622.5 353.6 624.2 354.1 625.8 354.6C627.5 355.1 629.2 355.6 630.8 356.1C632.5 356.7 634.1 357.2 635.8 357.7C637.5 358.3 639.1 358.8 640.8 359.4C642.5 360.0 644.1 360.6 645.8 361.2C647.4 361.8 649.1 362.4 650.8 363.1C652.4 363.8 654.1 364.4 655.8 365.2C657.4 365.9 659.1 366.6 660.8 367.4C662.4 368.2 664.1 369.0 665.7 369.9C667.4 370.7 669.1 371.6 670.7 372.5C672.4 373.4 674.1 374.4 675.7 375.4C677.4 376.3 679.0 377.4 680.7 378.4C682.4 379.4 684.0 380.5 685.7 381.6C687.4 382.6 689.0 383.7 690.7 384.9C692.3 386.0 694.0 387.1 695.7 388.3C697.3 389.5 699.0 390.7 700.7 391.9C702.3 393.1 704.0 394.3 705.7 395.5C707.3 396.8 709.0 398.0 710.6 399.3C712.3 400.5 714.0 401.8 715.6 403.1C717.3 404.3 719.0 405.6 720.6 406.9C722.3 408.2 723.9 409.5 725.6 410.8C727.3 412.1 728.9 413.4 730.6 414.7C732.3 415.9 733.9 417.2 735.6 418.5C737.2 419.7 738.9 421.0 740.6 422.3C742.2 423.5 743.9 424.8 745.6 426.1C747.2 427.4 748.9 428.7 750.6 430.0C752.2 431.4 753.9 432.7 755.5 434.1C757.2 435.5 758.9 436.8 760.5 438.2C762.2 439.6 763.9 441.0 765.5 442.4C767.2 443.8 768.8 445.2 770.5 446.6C772.2 448.0 773.8 449.4 775.5 450.7C777.2 452.1 778.8 453.5 780.5 454.9C782.1 456.2 783.8 457.6 785.5 458.9C787.1 460.3 788.8 461.6 790.5 462.9C792.1 464.2 793.8 465.5 795.5 466.8C797.1 468.1 798.8 469.4 800.4 470.6C802.1 471.9 803.8 473.1 805.4 474.3C807.1 475.6 808.8 476.8 810.4 477.9C812.1 479.1 813.7 480.3 815.4 481.4C817.1 482.6 818.7 483.7 820.4 484.8C822.1 485.9 823.7 487.0 825.4 488.0C827.0 489.1 828.7 490.1 830.4 491.1C832.0 492.1 833.7 493.1 835.4 494.1C837.0 495.0 838.7 495.9 840.4 496.8C842.0 497.7 843.7 498.6 845.3 499.4C847.0 500.3 848.7 501.1 850.3 501.9C852.0 502.6 853.7 503.4 855.3 504.1C857.0 504.8 858.6 505.5 860.3 506.1C862.0 506.8 863.6 507.4 865.3 508.0C867.0 508.6 868.6 509.1 870.3 509.6C872.0 510.1 873.6 510.6 875.3 511.0C876.9 511.4 878.6 511.8 880.3 512.1C881.9 512.5 883.6 512.8 885.3 513.1C886.9 513.3 888.6 513.5 890.2 513.7C891.9 513.9 893.6 514.0 895.2 514.2" stroke="#e76c30" stroke-width="1.1" stroke-dasharray="3 3" stroke-dashoffset="1.64" fill="none"/>
<path d="M895.2 514.2C896.9 514.2 898.6 514.3 900.2 514.4C901.9 514.4 903.5 514.5 905.2 514.5C906.9 514.5 908.5 514.5 910.2 514.5C911.9 514.5 913.5 514.4 915.2 514.4C916.9 514.4 918.5 514.4 920.2 514.4C921.8 514.4 923.5 514.4 925.2 514.4C926.8 514.4 928.5 514.4 930.2 514.4C931.8 514.4 933.5 514.4 935.1 514.4C936.8 514.4 938.5 514.4 940.1 514.4C941.8 514.4 943.5 514.4 945.1 514.4C946.8 514.4 948.4 514.4 950.1 514.4C951.8 514.4 953.4 514.4 955.1 514.4C956.8 514.4 958.4 514.4 960.1 514.4C961.8 514.4 963.4 514.4 965.1 514.4C966.7 514.4 968.4 514.4 970.1 514.4C971.7 514.4 973.4 514.4 975.1 514.4C976.7 514.4 978.4 514.4 980.0 514.4C981.7 514.4 983.4 514.4 985.0 514.4C986.7 514.4 988.4 514.4 990.0 514.4C991.7 514.4 993.3 514.4 995.0 514.4C996.7 514.4 998.3 514.4 1000.0 514.4" stroke="#e76c30" stroke-width="1" stroke-dasharray="3 3" stroke-dashoffset="4.80" fill="none"/>
<path d="M98.0 519.4C99.7 519.4 101.3 519.4 103.0 519.4C104.7 519.4 106.4 519.4 108.0 519.4C109.7 519.4 111.4 519.4 113.0 519.4C114.7 519.4 116.4 519.4 118.0 519.4C119.7 519.4 121.4 519.4 123.1 519.4C124.7 519.4 126.4 519.4 128.1 519.4C129.7 519.4 131.4 519.4 133.1 519.4C134.7 519.4 136.4 519.4 138.1 519.4C139.8 519.4 141.4 519.4 143.1 519.4C144.8 519.4 146.4 519.4 148.1 519.4C149.8 519.4 151.5 519.4 153.1 519.4C154.8 519.4 156.5 519.4 158.1 519.4C159.8 519.4 161.5 519.4 163.1 519.4C164.8 519.4 166.5 519.4 168.2 519.4C169.8 519.4 171.5 519.4 173.2 519.4C174.8 519.4 176.5 519.4 178.2 519.4C179.8 519.4 181.5 519.4 183.2 519.4C184.9 519.4 186.5 519.4 188.2 519.4C189.9 519.4 191.5 519.4 193.2 519.4C194.9 519.4 196.6 519.4 198.2 519.4C199.9 519.4 201.6 519.4 203.2 519.4C204.9 519.4 206.6 519.4 208.2 519.4C209.9 519.4 211.6 519.4 213.3 519.4C214.9 519.4 216.6 519.4 218.3 519.4C219.9 519.4 221.6 519.4 223.3 519.4C224.9 519.4 226.6 519.4 228.3 519.4C230.0 519.4 231.6 519.4 233.3 519.4C235.0 519.4 236.6 519.5 238.3 519.5C240.0 519.5 241.7 519.5 243.3 519.5C245.0 519.5 246.7 519.6 248.3 519.6C250.0 519.6 251.7 519.6 253.3 519.6C255.0 519.6 256.7 519.6 258.4 519.6C260.0 519.6 261.7 519.7 263.4 519.6C265.0 519.6 266.7 519.6 268.4 519.6C270.0 519.6 271.7 519.6 273.4 519.5C275.1 519.4 276.7 519.4 278.4 519.2C280.1 519.1 281.7 519.0 283.4 518.7C285.1 518.5 286.8 518.3 288.4 517.9C290.1 517.6 291.8 517.2 293.4 516.7C295.1 516.3 296.8 515.7 298.4 515.0C300.1 514.4 301.8 513.7 303.5 512.8C305.1 512.0 306.8 511.1 308.5 510.1C310.1 509.2 311.8 508.1 313.5 507.0C315.1 505.8 316.8 504.6 318.5 503.4C320.2 502.1 321.8 500.7 323.5 499.3C325.2 497.9 326.8 496.4 328.5 494.9C330.2 493.3 331.9 491.7 333.5 490.0C335.2 488.4 336.9 486.6 338.5 484.8C340.2 483.0 341.9 481.1 343.5 479.2C345.2 477.2 346.9 475.2 348.6 473.1C350.2 471.0 351.9 468.9 353.6 466.7C355.2 464.5 356.9 462.2 358.6 459.9C360.2 457.5 361.9 455.1 363.6 452.7C365.3 450.2 366.9 447.6 368.6 445.0C370.3 442.4 371.9 439.8 373.6 437.0C375.3 434.3 377.0 431.5 378.6 428.6C380.3 425.8 382.0 422.8 383.6 419.9C385.3 416.9 387.0 413.8 388.6 410.7C390.3 407.6 392.0 404.5 393.7 401.3C395.3 398.2 397.0 394.9 398.7 391.7C400.3 388.6 402.0 385.3 403.7 382.1C405.3 378.9 407.0 375.7 408.7 372.5C410.4 369.4 412.0 366.2 413.7 363.1C415.4 360.0 417.0 356.9 418.7 353.8C420.4 350.8 422.1 347.7 423.7 344.7C425.4 341.8 427.1 338.8 428.7 335.9C430.4 333.0 432.1 330.1 433.7 327.3C435.4 324.4 437.1 321.6 438.8 318.9C440.4 316.2 442.1 313.5 443.8 310.8C445.4 308.2 447.1 305.5 448.8 303.0C450.4 300.4 452.1 297.9 453.8 295.4C455.5 293.0 457.1 290.5 458.8 288.2C460.5 285.8 462.1 283.5 463.8 281.2C465.5 278.9 467.2 276.7 468.8 274.5C470.5 272.3 472.2 270.1 473.8 268.0C475.5 265.9 477.2 263.9 478.8 261.9C480.5 259.9 482.2 258.0 483.9 256.1C485.5 254.2 487.2 252.3 488.9 250.5C490.5 248.7 492.2 246.9 493.9 245.2C495.5 243.5 497.2 241.9 498.9 240.3C500.6 238.7 502.2 237.1 503.9 235.6C505.6 234.1 507.2 232.6 508.9 231.2C510.6 229.8 512.3 228.5 513.9 227.2C515.6 225.9 517.3 224.6 518.9 223.4C520.6 222.2 522.3 221.0 523.9 219.9C525.6 218.8 527.3 217.8 529.0 216.8C530.6 215.8 532.3 214.9 534.0 214.0C535.6 213.1 537.3 212.2 539.0 211.4C540.6 210.7 542.3 209.9 544.0 209.2C545.7 208.6 547.3 207.9 549.0 207.4C550.7 206.8 552.3 206.3 554.0 205.8C555.7 205.3 557.4 204.9 559.0 204.5C560.7 204.2 562.4 203.9 564.0 203.6C565.7 203.3 567.4 203.1 569.0 203.0C570.7 202.8 572.4 202.7 574.1 202.7C575.7 202.6 577.4 202.6 579.1 202.6C580.7 202.7 582.4 202.8 584.1 202.9C585.7 203.0 587.4 203.2 589.1 203.5C590.8 203.7 592.4 204.0 594.1 204.3C595.8 204.6 597.4 205.0 599.1 205.4C600.8 205.9 602.5 206.3 604.1 206.9C605.8 207.4 607.5 207.9 609.1 208.5C610.8 209.1 612.5 209.8 614.1 210.5C615.8 211.2 617.5 211.9 619.2 212.7C620.8 213.5 622.5 214.3 624.2 215.2C625.8 216.0 627.5 216.9 629.2 217.9C630.8 218.8 632.5 219.8 634.2 220.9C635.9 221.9 637.5 223.0 639.2 224.1C640.9 225.2 642.5 226.4 644.2 227.6C645.9 228.8 647.6 230.0 649.2 231.3C650.9 232.5 652.6 233.8 654.2 235.2C655.9 236.5 657.6 237.9 659.2 239.4C660.9 240.8 662.6 242.2 664.3 243.7C665.9 245.2 667.6 246.8 669.3 248.4C670.9 249.9 672.6 251.5 674.3 253.2C675.9 254.8 677.6 256.5 679.3 258.3C681.0 260.0 682.6 261.8 684.3 263.6C686.0 265.4 687.6 267.3 689.3 269.2C691.0 271.1 692.7 273.0 694.3 275.0C696.0 277.0 697.7 279.1 699.3 281.2C701.0 283.3 702.7 285.4 704.3 287.6C706.0 289.8 707.7 292.0 709.4 294.3C711.0 296.6 712.7 299.0 714.4 301.4C716.0 303.8 717.7 306.2 719.4 308.7C721.0 311.2 722.7 313.8 724.4 316.4C726.1 319.0 727.7 321.7 729.4 324.4C731.1 327.1 732.7 329.9 734.4 332.6C736.1 335.4 737.8 338.2 739.4 341.1C741.1 343.9 742.8 346.8 744.4 349.6C746.1 352.5 747.8 355.4 749.4 358.3C751.1 361.2 752.8 364.2 754.5 367.1C756.1 370.0 757.8 372.9 759.5 375.8C761.1 378.8 762.8 381.7 764.5 384.6C766.1 387.5 767.8 390.4 769.5 393.2C771.2 396.1 772.8 399.0 774.5 401.8C776.2 404.6 777.8 407.4 779.5 410.1C781.2 412.9 782.9 415.6 784.5 418.3C786.2 421.0 787.9 423.7 789.5 426.3C791.2 428.9 792.9 431.5 794.5 434.0C796.2 436.6 797.9 439.1 799.6 441.5C801.2 444.0 802.9 446.4 804.6 448.8C806.2 451.1 807.9 453.4 809.6 455.7C811.2 458.0 812.9 460.2 814.6 462.4C816.3 464.5 817.9 466.7 819.6 468.7C821.3 470.8 822.9 472.8 824.6 474.7C826.3 476.7 828.0 478.6 829.6 480.4C831.3 482.2 833.0 484.0 834.6 485.7C836.3 487.4 838.0 489.1 839.6 490.7C841.3 492.2 843.0 493.8 844.7 495.2C846.3 496.7 848.0 498.1 849.7 499.4C851.3 500.7 853.0 502.0 854.7 503.2C856.3 504.4 858.0 505.5 859.7 506.6C861.4 507.6 863.0 508.7 864.7 509.6C866.4 510.5 868.0 511.4 869.7 512.2C871.4 513.0 873.1 513.8 874.7 514.4C876.4 515.1 878.1 515.7 879.7 516.2C881.4 516.8 883.1 517.3 884.7 517.7C886.4 518.1 888.1 518.4 889.8 518.7C891.4 519.0 893.1 519.2 894.8 519.3C896.4 519.5 898.1 519.6 899.8 519.7C901.4 519.8 903.1 519.8 904.8 519.8C906.5 519.8 908.1 519.8 909.8 519.8C911.5 519.8 913.1 519.7 914.8 519.7C916.5 519.7 918.2 519.7 919.8 519.6C921.5 519.6 923.2 519.6 924.8 519.6C926.5 519.6 928.2 519.6 929.8 519.6C931.5 519.6 933.2 519.6 934.9 519.6C936.5 519.6 938.2 519.6 939.9 519.6C941.5 519.6 943.2 519.6 944.9 519.6C946.5 519.6 948.2 519.6 949.9 519.6C951.6 519.6 953.2 519.6 954.9 519.6C956.6 519.6 958.2 519.6 959.9 519.6C961.6 519.6 963.3 519.6 964.9 519.6C966.6 519.6 968.3 519.6 969.9 519.6C971.6 519.6 973.3 519.6 974.9 519.6C976.6 519.6 978.3 519.6 980.0 519.6C981.6 519.6 983.3 519.6 985.0 519.6C986.6 519.6 988.3 519.6 990.0 519.6C991.6 519.6 993.3 519.6 995.0 519.6C996.7 519.6 998.3 519.6 1000.0 519.6" stroke="#e76c30" stroke-width="3.15" stroke-linecap="round" fill="none"/>
<text transform="translate(1024.90 146.00) scale(0.9750 1)" font-size="23.4" text-anchor="start" fill="#8380b9" stroke="#8380b9" stroke-width="0.1">Éolien</text>
<line x1="1024" x2="1051" y1="169.0" y2="169.0" stroke="#8380b9" stroke-width="1" stroke-dasharray="12 3"/>
<line x1="1025" x2="1051.5" y1="189.9" y2="189.9" stroke="#8380b9" stroke-width="3" stroke-linecap="round"/>
<line x1="1024" x2="1051" y1="211.0" y2="211.0" stroke="#8380b9" stroke-width="1" stroke-dasharray="3 3"/>
<text transform="translate(1067.30 172.50) scale(1.0300 1)" font-size="15" text-anchor="start" fill="#8380b9" stroke="#8380b9" stroke-width="0.15">maximum</text>
<text transform="translate(1067.30 192.60) scale(0.9950 1)" font-size="15" text-anchor="start" fill="#8380b9" stroke="#8380b9" stroke-width="0.15">moyenne</text>
<text transform="translate(1067.30 213.10) scale(1.0450 1)" font-size="15" text-anchor="start" fill="#8380b9" stroke="#8380b9" stroke-width="0.15">minimum</text>

<text transform="translate(1024.90 262.60) scale(1.0200 1)" font-size="23.4" text-anchor="start" fill="#e76c30" stroke="#e76c30" stroke-width="0.1">Photovoltaïque</text>
<line x1="1024" x2="1051" y1="280.8" y2="280.8" stroke="#e76c30" stroke-width="1" stroke-dasharray="12 3"/>
<line x1="1025" x2="1051.5" y1="301.9" y2="301.9" stroke="#e76c30" stroke-width="3" stroke-linecap="round"/>
<line x1="1024" x2="1051" y1="323.0" y2="323.0" stroke="#e76c30" stroke-width="1" stroke-dasharray="3 3"/>
<text transform="translate(1067.30 284.50) scale(1.0300 1)" font-size="15" text-anchor="start" fill="#e76c30" stroke="#e76c30" stroke-width="0.15">maximum</text>
<text transform="translate(1067.30 304.70) scale(0.9950 1)" font-size="15" text-anchor="start" fill="#e76c30" stroke="#e76c30" stroke-width="0.15">moyenne</text>
<text transform="translate(1067.30 325.10) scale(1.0450 1)" font-size="15" text-anchor="start" fill="#e76c30" stroke="#e76c30" stroke-width="0.15">minimum</text>

</svg>
</body></html>
